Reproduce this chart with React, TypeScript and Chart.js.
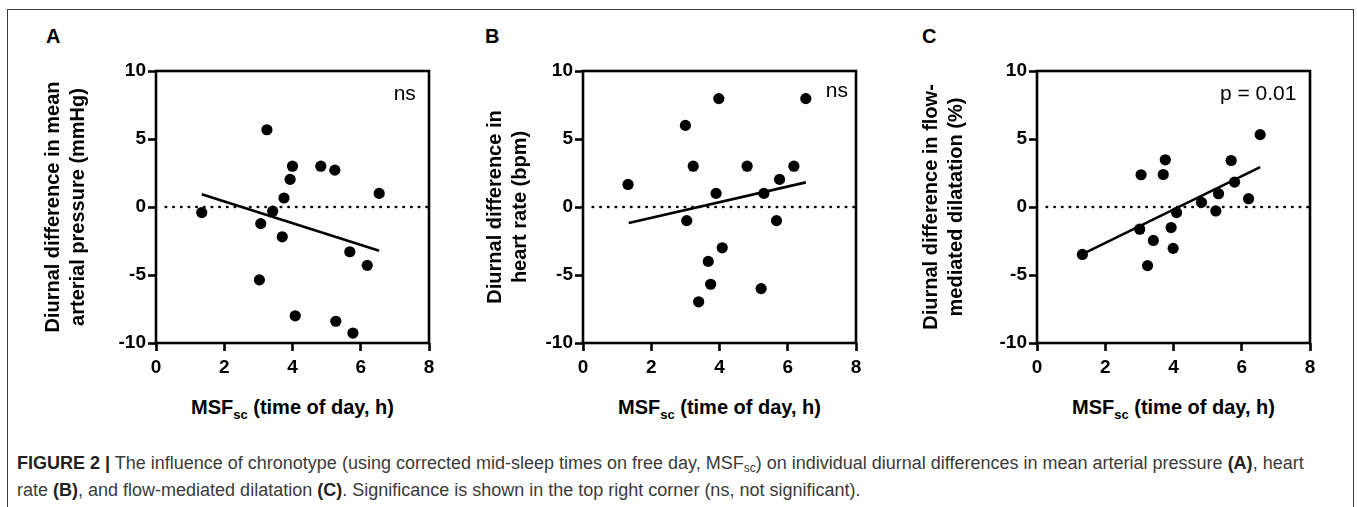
import React, { useEffect, useRef } from "react";
import { Chart, registerables } from "chart.js";

Chart.register(...registerables);

// ---------------- data ----------------
const xTickValues = [0, 2, 4, 6, 8];
const yTickValues = [-10, -5, 0, 5, 10];

// Panel A: mean arterial pressure (mmHg)
const mapMsf = [1.34, 3.25, 4.0, 3.93, 4.83, 5.24, 6.54, 3.75, 3.42, 3.07, 3.7, 5.68, 6.19, 3.03, 4.08, 5.27, 5.77];
const mapDiff = [-0.41, 5.68, 3.0, 2.03, 3.0, 2.71, 1.0, 0.66, -0.31, -1.22, -2.19, -3.29, -4.29, -5.36, -8.0, -8.4, -9.27];
const mapFitX = [1.34, 6.54];
const mapFitY = [0.93, -3.22];

// Panel B: heart rate (bpm)
const hrMsf = [1.32, 3.0, 3.98, 6.53, 3.23, 4.81, 6.18, 5.76, 3.9, 5.3, 3.04, 5.67, 4.08, 3.67, 3.74, 5.22, 3.39];
const hrDiff = [1.66, 6.0, 7.97, 7.97, 3.0, 3.0, 3.0, 2.03, 1.0, 1.0, -1.0, -1.0, -3.0, -4.0, -5.68, -6.0, -6.97];
const hrFitX = [1.34, 6.53];
const hrFitY = [-1.17, 1.81];

// Panel C: flow-mediated dilatation (%)
const fmdMsf = [1.33, 3.05, 3.76, 3.7, 6.54, 5.69, 5.79, 5.32, 4.82, 5.24, 6.2, 4.09, 3.01, 3.93, 3.41, 3.99, 3.24];
const fmdDiff = [-3.49, 2.37, 3.47, 2.39, 5.32, 3.42, 1.83, 0.98, 0.34, -0.29, 0.61, -0.41, -1.63, -1.51, -2.46, -3.04, -4.31];
const fmdFitX = [1.33, 6.54];
const fmdFitY = [-3.47, 2.93];

const panelLetters = ["A", "B", "C"];
const yTitles = [
  ["Diurnal difference in mean", "arterial pressure (mmHg)"],
  ["Diurnal difference in", "heart rate (bpm)"],
  ["Diurnal difference in flow-", "mediated dilatation (%)"],
];
const significanceLabels = ["ns", "ns", "p = 0.01"];

const seriesX = [mapMsf, hrMsf, fmdMsf];
const seriesY = [mapDiff, hrDiff, fmdDiff];
const fitXs = [mapFitX, hrFitX, fmdFitX];
const fitYs = [mapFitY, hrFitY, fmdFitY];

// ---------------- layout / style ----------------
const FONT = "'Liberation Sans', Arial, Helvetica, sans-serif";
const CANVAS_TOP = 51;
const CANVAS_H = 339;
const PLOT_W = 273;
const PAD_TOP = 20;
const PAD_RIGHT = 14;
const X_AXIS_H = 47;
const LINE_W = 2.6;

const LAYOUT = [
  { canvasLeft: 41, axisWidth: 115, letterLeft: 46, noteX: 7.29, noteY: 7.88 },
  { canvasLeft: 483, axisWidth: 100, letterLeft: 485, noteX: 7.44, noteY: 8.07 },
  { canvasLeft: 919, axisWidth: 118, letterLeft: 922, noteX: 6.48, noteY: 7.84 },
];

const framePlugin = {
  id: "gpFrame",
  beforeDatasetsDraw(chart: any) {
    const { ctx, chartArea: a, scales } = chart;
    const y0 = scales.y.getPixelForValue(0);
    ctx.save();
    ctx.strokeStyle = "#000";
    ctx.lineWidth = LINE_W;
    ctx.lineCap = "round";
    ctx.setLineDash([0.4, 7.27]);
    ctx.beginPath();
    ctx.moveTo(a.left + 9.7, y0);
    ctx.lineTo(a.right - 1, y0);
    ctx.stroke();
    ctx.restore();
  },
  afterDraw(chart: any, _args: any, opts: any) {
    const { ctx, chartArea: a, scales } = chart;
    ctx.save();
    ctx.strokeStyle = "#000";
    ctx.lineWidth = LINE_W;
    ctx.lineJoin = "miter";
    ctx.setLineDash([]);
    ctx.strokeRect(a.left, a.top, a.right - a.left, a.bottom - a.top);
    if (opts && opts.text) {
      ctx.fillStyle = "#000";
      ctx.font = `21px ${FONT}`;
      ctx.textAlign = "center";
      ctx.textBaseline = "alphabetic";
      ctx.fillText(opts.text, scales.x.getPixelForValue(opts.x), scales.y.getPixelForValue(opts.y));
    }
    ctx.restore();
  },
};

function makeChart(canvas: HTMLCanvasElement, i: number) {
  const lay = LAYOUT[i];
  const tickFont = { family: FONT, size: 19, weight: "bold" as const };
  return new Chart(canvas, {
    type: "scatter",
    data: {
      datasets: [
        {
          type: "line",
          data: fitXs[i].map((x, k) => ({ x, y: fitYs[i][k] })),
          borderColor: "#000",
          borderWidth: LINE_W,
          pointRadius: 0,
          fill: false,
          tension: 0,
        } as any,
        {
          type: "scatter",
          data: seriesX[i].map((x, k) => ({ x, y: seriesY[i][k] })),
          backgroundColor: "#000",
          borderColor: "#000",
          borderWidth: 0,
          pointRadius: 5.6,
          pointHoverRadius: 5.6,
        } as any,
      ],
    },
    plugins: [framePlugin],
    options: {
      animation: false,
      responsive: false,
      maintainAspectRatio: false,
      events: [],
      layout: { padding: { top: PAD_TOP, right: PAD_RIGHT, bottom: 0, left: 0 } },
      plugins: {
        legend: { display: false },
        tooltip: { enabled: false },
        gpFrame: { text: significanceLabels[i], x: lay.noteX, y: lay.noteY },
      } as any,
      scales: {
        x: {
          type: "linear",
          min: 0,
          max: 8,
          afterBuildTicks: (s: any) => {
            s.ticks = xTickValues.map((v) => ({ value: v }));
          },
          afterFit: (s: any) => {
            s.height = X_AXIS_H;
          },
          grid: {
            display: true,
            drawOnChartArea: false,
            drawTicks: true,
            tickLength: 8,
            tickWidth: LINE_W,
            tickColor: "#000",
          },
          border: { display: false },
          ticks: { font: tickFont, color: "#000", padding: 5, maxRotation: 0, autoSkip: false },
        },
        y: {
          type: "linear",
          min: -10,
          max: 10,
          afterBuildTicks: (s: any) => {
            s.ticks = yTickValues.map((v) => ({ value: v }));
          },
          afterFit: (s: any) => {
            s.width = lay.axisWidth;
          },
          grid: {
            display: true,
            drawOnChartArea: false,
            drawTicks: true,
            tickLength: 8,
            tickWidth: LINE_W,
            tickColor: "#000",
          },
          border: { display: false },
          ticks: { font: tickFont, color: "#000", padding: 2, autoSkip: false },
          title: {
            display: true,
            text: yTitles[i],
            color: "#000",
            font: { family: FONT, size: 20, weight: "bold", lineHeight: 1.25 },
            padding: { top: 0, bottom: 0 },
          },
        },
      },
    } as any,
  });
}

export default function App() {
  const refs = [useRef<HTMLCanvasElement>(null), useRef<HTMLCanvasElement>(null), useRef<HTMLCanvasElement>(null)];

  useEffect(() => {
    const charts = refs.map((r, i) => (r.current ? makeChart(r.current, i) : null));
    return () => {
      charts.forEach((c) => c && c.destroy());
    };
  }, []);

  return (
    <div
      style={{
        position: "absolute",
        left: 0,
        top: 0,
        width: 1357,
        height: 507,
        overflow: "hidden",
        background: "#fff",
        fontFamily: FONT,
      }}
    >
      {/* figure frame */}
      <div
        style={{
          position: "absolute",
          left: 7,
          top: 9,
          width: 1347,
          height: 520,
          borderLeft: "1.5px solid #3a3a3a",
          borderTop: "1.5px solid #3a3a3a",
          borderRight: "1.5px solid #3a3a3a",
          boxSizing: "border-box",
        }}
      />
      {LAYOUT.map((lay, i) => {
        const w = lay.axisWidth + PLOT_W + PAD_RIGHT;
        const plotLeft = lay.canvasLeft + lay.axisWidth;
        return (
          <React.Fragment key={i}>
            <div
              style={{
                position: "absolute",
                left: lay.letterLeft,
                top: 24,
                fontSize: 20,
                fontWeight: "bold",
                lineHeight: "24px",
                color: "#000",
              }}
            >
              {panelLetters[i]}
            </div>
            <canvas
              ref={refs[i]}
              width={w}
              height={CANVAS_H}
              style={{ position: "absolute", left: lay.canvasLeft, top: CANVAS_TOP, width: w, height: CANVAS_H }}
            />
            <div
              style={{
                position: "absolute",
                left: plotLeft - 40,
                width: PLOT_W + 80,
                top: 395,
                textAlign: "center",
                fontSize: 20,
                fontWeight: "bold",
                lineHeight: "24px",
                color: "#000",
                whiteSpace: "nowrap",
              }}
            >
              MSF
              <span style={{ fontSize: 13, position: "relative", top: 5 }}>sc</span> (time of day, h)
            </div>
          </React.Fragment>
        );
      })}
      {/* caption */}
      <div
        style={{
          position: "absolute",
          left: 17,
          top: 451,
          fontSize: 18,
          lineHeight: "25px",
          color: "#3a3a3a",
          whiteSpace: "nowrap",
        }}
      >
        <b style={{ color: "#222" }}>FIGURE 2 |</b> The influence of chronotype (using corrected mid-sleep times on free
        day, MSF<span style={{ fontSize: 12, position: "relative", top: 3 }}>sc</span>) on individual diurnal differences
        in mean arterial pressure <b style={{ color: "#222" }}>(A)</b>, heart
        <br />
        rate <b style={{ color: "#222" }}>(B)</b>, and flow-mediated dilatation <b style={{ color: "#222" }}>(C)</b>.
        Significance is shown in the top right corner (ns, not significant).
      </div>
    </div>
  );
}
